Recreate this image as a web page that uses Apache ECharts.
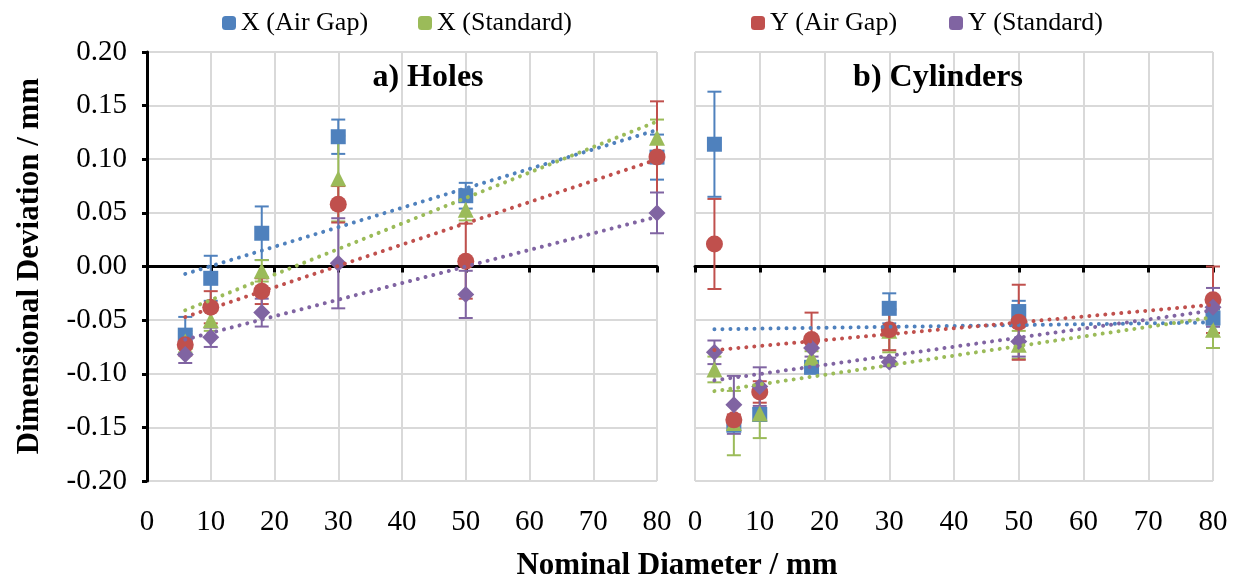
<!DOCTYPE html>
<html>
<head>
<meta charset="utf-8">
<script src="https://cdn.jsdelivr.net/npm/echarts@6/dist/echarts.min.js"></script>
<style>
  html, body { margin: 0; padding: 0; background: #fff; }
  #main { width: 1241px; height: 586px; }
</style>
</head>
<body>
<div id="main"></div>
<script>
// nominal diameters
const holesX = [6, 10, 18, 30, 50, 80]
const cylX = [3, 6, 10, 18, 30, 50, 80]

// a) Holes
const holesXAir = [-0.064, -0.011, 0.031, 0.121, 0.066, 0.102]
const holesXAirErr = [0.017, 0.021, 0.025, 0.016, 0.012, 0.021]
const holesXStd = [-0.070, -0.050, -0.004, 0.082, 0.053, 0.120]
const holesXStdErr = [0.010, 0.010, 0.010, 0.040, 0.010, 0.017]
const holesYAir = [-0.073, -0.038, -0.023, 0.058, 0.005, 0.102]
const holesYAirErr = [0.010, 0.015, 0.012, 0.017, 0.035, 0.052]
const holesYStd = [-0.082, -0.066, -0.043, 0.003, -0.026, 0.050]
const holesYStdErr = [0.008, 0.009, 0.013, 0.042, 0.022, 0.019]

// b) Cylinders
const cylXAir = [0.114, -0.148, -0.138, -0.094, -0.039, -0.042, -0.048]
const cylXAirErr = [0.049, 0.005, 0.006, 0.005, 0.014, 0.010, 0.008]
const cylXStd = [-0.096, -0.146, -0.137, -0.085, -0.060, -0.073, -0.059]
const cylXStdErr = [0.012, 0.030, 0.023, 0.006, 0.020, 0.013, 0.017]
const cylYAir = [0.021, -0.143, -0.117, -0.068, -0.059, -0.052, -0.031]
const cylYAirErr = [0.042, 0.005, 0.010, 0.025, 0.019, 0.035, 0.031]
const cylYStd = [-0.080, -0.129, -0.112, -0.076, -0.089, -0.070, -0.038]
const cylYStdErr = [0.011, 0.027, 0.018, 0.008, 0.004, 0.014, 0.018]

const seriesNames = ['X (Air Gap)', 'X (Standard)', 'Y (Air Gap)', 'Y (Standard)']
const colors = ['#4F81BD', '#9BBB59', '#C0504D', '#8064A2']
const symbols = ['rect', 'triangle', 'circle', 'diamond']
const symbolSizes = [15, 16, 17, 17]

const FONT = 'Liberation Serif'
const GRID_COLOR = '#D9D9D9'

// least squares trendline, drawn between first and last x
function trend(xs, ys) {
    var n = xs.length, mx = 0, my = 0
    for (var i = 0; i < n; i++) { mx += xs[i]; my += ys[i] }
    mx /= n; my /= n
    var sxx = 0, sxy = 0
    for (var i = 0; i < n; i++) {
        sxx += (xs[i] - mx) * (xs[i] - mx)
        sxy += (xs[i] - mx) * (ys[i] - my)
    }
    var b = sxy / sxx, a = my - b * mx
    var x0 = xs[0], x1 = xs[n - 1]
    return [[x0, a + b * x0], [x1, a + b * x1]]
}

function errorBar(params, api) {
    var x = api.value(0)
    var top = api.coord([x, api.value(2)])
    var bot = api.coord([x, api.value(1)])
    var w = 7
    var style = { stroke: api.visual('color'), lineWidth: 2 }
    return {
        type: 'group',
        children: [
            { type: 'line', shape: { x1: top[0], y1: top[1], x2: bot[0], y2: bot[1] }, style: style },
            { type: 'line', shape: { x1: top[0] - w, y1: top[1], x2: top[0] + w, y2: top[1] }, style: style },
            { type: 'line', shape: { x1: bot[0] - w, y1: bot[1], x2: bot[0] + w, y2: bot[1] }, style: style }
        ]
    }
}

const panels = [
    { xs: holesX, vals: [holesXAir, holesXStd, holesYAir, holesYStd], errs: [holesXAirErr, holesXStdErr, holesYAirErr, holesYStdErr] },
    { xs: cylX, vals: [cylXAir, cylXStd, cylYAir, cylYStd], errs: [cylXAirErr, cylXStdErr, cylYAirErr, cylYStdErr] }
]

var series = []
panels.forEach(function (p, g) {
    // markers and error bars
    for (var s = 0; s < 4; s++) {
        var ys = p.vals[s], es = p.errs[s]
        series.push({
            type: 'custom',
            name: seriesNames[s],
            xAxisIndex: g * 2,
            yAxisIndex: g,
            itemStyle: { color: colors[s] },
            renderItem: errorBar,
            encode: { x: 0, y: [1, 2] },
            data: p.xs.map(function (x, i) { return [x, ys[i] - es[i], ys[i] + es[i]] }),
            z: 3
        })
        series.push({
            type: 'scatter',
            name: seriesNames[s],
            xAxisIndex: g * 2,
            yAxisIndex: g,
            symbol: symbols[s],
            symbolSize: symbolSizes[s],
            itemStyle: { color: colors[s], opacity: 1 },
            data: p.xs.map(function (x, i) { return [x, ys[i]] }),
            z: 3
        })
    }
    // dotted trendlines on top
    for (var s = 0; s < 4; s++) {
        series.push({
            type: 'line',
            name: seriesNames[s],
            xAxisIndex: g * 2,
            yAxisIndex: g,
            showSymbol: false,
            silent: true,
            lineStyle: { color: colors[s], width: 4, type: [0.01, 8], cap: 'round' },
            data: trend(p.xs, p.vals[s]),
            z: 5
        })
    }
})

function labelAxis(g) {
    return {
        gridIndex: g, type: 'value', min: 0, max: 80, interval: 10, position: 'bottom',
        axisLine: { show: false, onZero: false },
        axisTick: { show: false },
        axisLabel: { fontFamily: FONT, fontSize: 29, color: '#000', margin: 27 },
        splitLine: { show: true, lineStyle: { color: GRID_COLOR, width: 2 } }
    }
}
function zeroAxis(g) {
    return {
        gridIndex: g, type: 'value', min: 0, max: 80, interval: 10, position: 'top',
        axisLine: { show: true, onZero: true, lineStyle: { color: '#000', width: 3 } },
        axisTick: { show: true, inside: true, length: 6, lineStyle: { color: '#000', width: 3 } },
        axisLabel: { show: false },
        splitLine: { show: false }
    }
}

var legends = seriesNames.map(function (n, i) {
    return {
        data: [n],
        left: [217, 413, 746, 944][i],
        top: 5,
        itemWidth: 14,
        itemHeight: 14,
        itemGap: 4,
        textStyle: { fontFamily: FONT, fontSize: 26, color: '#000' },
        selectedMode: false
    }
})

function label(text, x, y, size, rot) {
    return {
        type: 'text', x: x, y: y, rotation: rot || 0, z: 100,
        style: { text: text, font: 'bold ' + size + 'px "Liberation Serif"', fill: '#000',
                 align: 'center', verticalAlign: 'middle' }
    }
}

var myChart = echarts.init(document.getElementById('main'))
var option = {
    animation: false,
    backgroundColor: '#fff',
    legend: legends,
    graphic: [
        label('a) Holes', 428, 78, 32),
        label('b) Cylinders', 938, 78, 32),
        label('Dimensional Deviation / mm', 30, 266, 31, Math.PI / 2),
        label('Nominal Diameter / mm', 677, 566, 31)
    ],
    grid: [
        { left: 147, top: 52, width: 510, height: 429 },
        { left: 695, top: 52, width: 518, height: 429 }
    ],
    xAxis: [labelAxis(0), zeroAxis(0), labelAxis(1), zeroAxis(1)],
    yAxis: [
        {
            gridIndex: 0, type: 'value', min: -0.2, max: 0.2, interval: 0.05,
            axisLine: { show: true, onZero: false, lineStyle: { color: '#000', width: 3 } },
            axisTick: { show: true, length: 5, lineStyle: { color: '#000', width: 3 } },
            axisLabel: { fontFamily: FONT, fontSize: 29, color: '#000', margin: 20,
                         formatter: function (v) { return v.toFixed(2) } },
            splitLine: { show: true, lineStyle: { color: GRID_COLOR, width: 2 } }
        },
        {
            gridIndex: 1, type: 'value', min: -0.2, max: 0.2, interval: 0.05,
            axisLine: { show: false, onZero: false },
            axisTick: { show: false },
            axisLabel: { show: false },
            splitLine: { show: true, lineStyle: { color: GRID_COLOR, width: 2 } }
        }
    ],
    series: series
}
myChart.setOption(option)
</script>
</body>
</html>
